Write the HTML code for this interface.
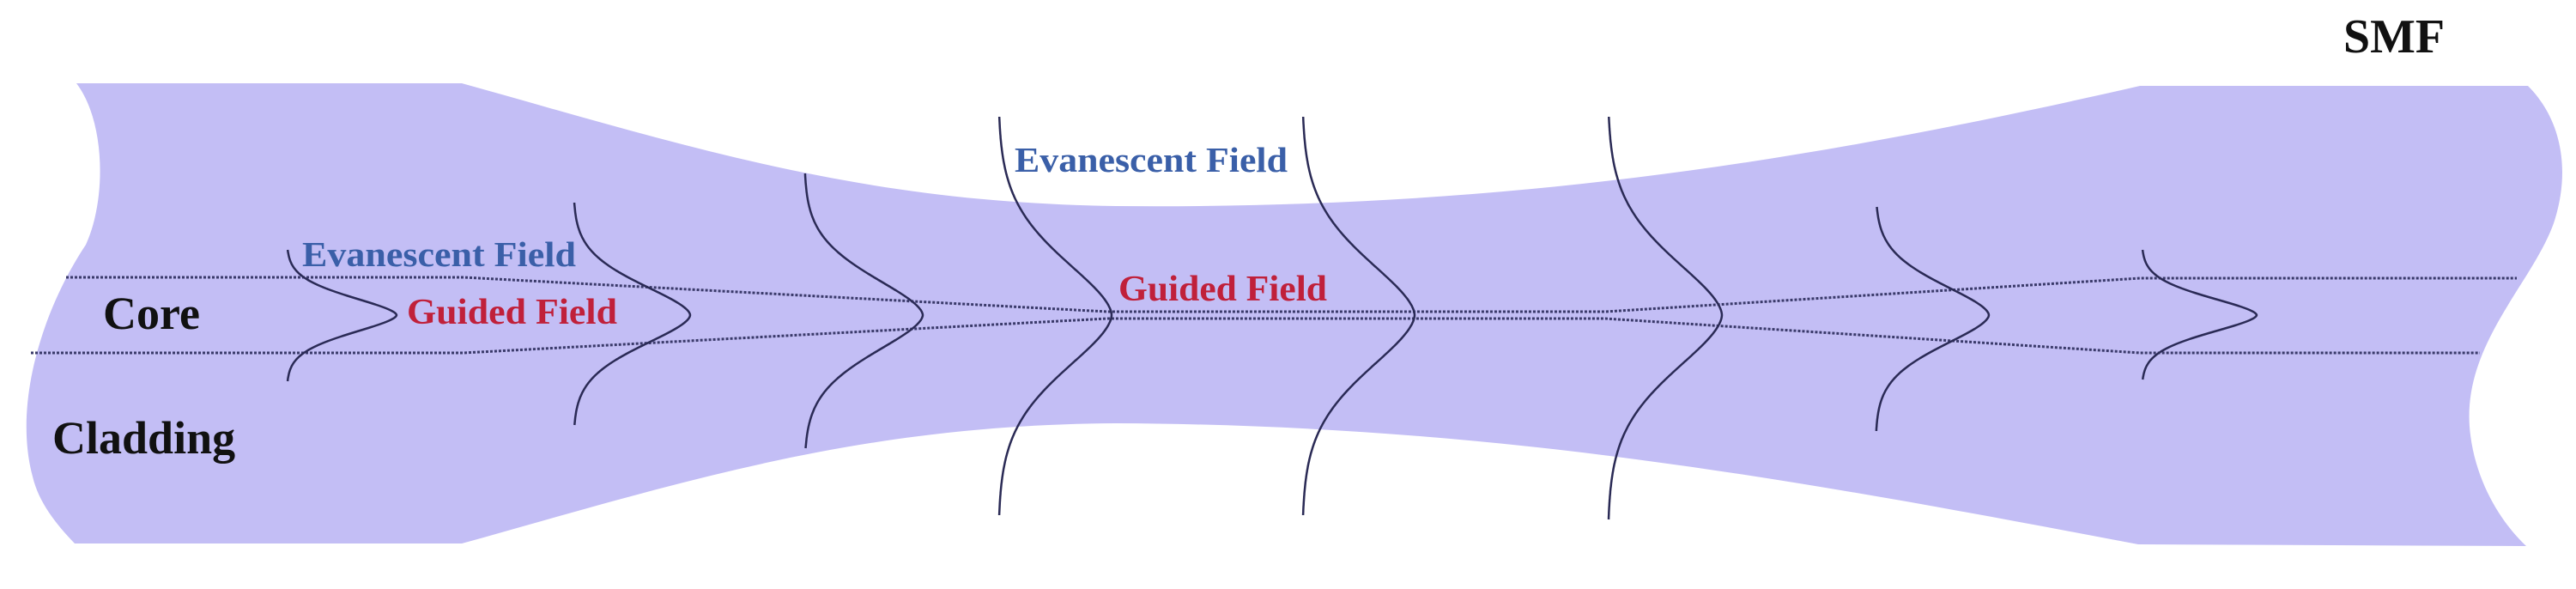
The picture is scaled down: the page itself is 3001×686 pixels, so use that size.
<!DOCTYPE html>
<html><head><meta charset="utf-8"><style>
html,body{margin:0;padding:0;background:#fff;}
svg{display:block}
.t{font-family:"Liberation Serif",serif;font-weight:bold;}
</style></head><body>
<svg id="s" width="3001" height="686" viewBox="0 0 3001 686" xmlns="http://www.w3.org/2000/svg">
<path fill="#c3bef5" d="M89,97 L538,97 C800,170 1000,236 1300,240 C1750,244 2100,190 2493,100 L2945,100 C2985,140 2995,200 2975,260 C2950,330 2870,400 2877,497 C2882,560 2915,610 2943,636 L2491,634 C2100,560 1750,495 1300,493 C1000,495 800,560 538,633 L87,633 C65,610 45,585 38,555 C15,470 50,360 100,285 C125,230 122,140 89,97 Z"/>
<g fill="none" stroke="#3a3a6a" stroke-width="3" stroke-dasharray="3,2">
<polyline points="77,323 540,323 1290,363 1870,363 2493,324 2932,324"/>
<polyline points="36,411 540,411 1290,371 1870,371 2493,411 2889,411"/>
</g>
<g id="curves" fill="none" stroke="#2a2a55" stroke-width="2.5"></g>
<text class="t" x="120" y="383" font-size="54" fill="#111">Core</text>
<text class="t" x="61" y="528" font-size="54" fill="#111">Cladding</text>
<text class="t" x="352" y="310" font-size="41" fill="#3a5fa8" textLength="319" lengthAdjust="spacingAndGlyphs">Evanescent Field</text>
<text class="t" x="474" y="377" font-size="42" fill="#c0203a" textLength="245" lengthAdjust="spacingAndGlyphs">Guided Field</text>
<text class="t" x="1182" y="200" font-size="41" fill="#3a5fa8" textLength="318" lengthAdjust="spacingAndGlyphs">Evanescent Field</text>
<text class="t" x="1303" y="350" font-size="42" fill="#c0203a" textLength="243" lengthAdjust="spacingAndGlyphs">Guided Field</text>
<text class="t" x="2730" y="61" font-size="56" fill="#111" textLength="118" lengthAdjust="spacingAndGlyphs">SMF</text>
</svg>
<script>
var C=[[334,291,444,462],[668,236,495,804],[937,202,522,1075],[1163,136,600,1295],[1517,136,600,1648],[1873,136,605,2006],[2185,241,502,2317],[2495,291,442,2629]];
var g=document.getElementById('curves'),ns="http://www.w3.org/2000/svg";
C.forEach(function(c){var x0=c[0],t=c[1],b=c[2],xp=c[3],yc=367,h=(b-t)/2,s=h*0.4,A=xp-x0,d="";
for(var y=t;y<=b;y+=1){var dy=Math.abs(y-yc);var x=x0+A*Math.exp(-Math.pow(dy/s,1.7));d+=(d?"L":"M")+x.toFixed(1)+","+y;}
var p=document.createElementNS(ns,"path");p.setAttribute("d",d);g.appendChild(p);});
</script>
</body></html>
